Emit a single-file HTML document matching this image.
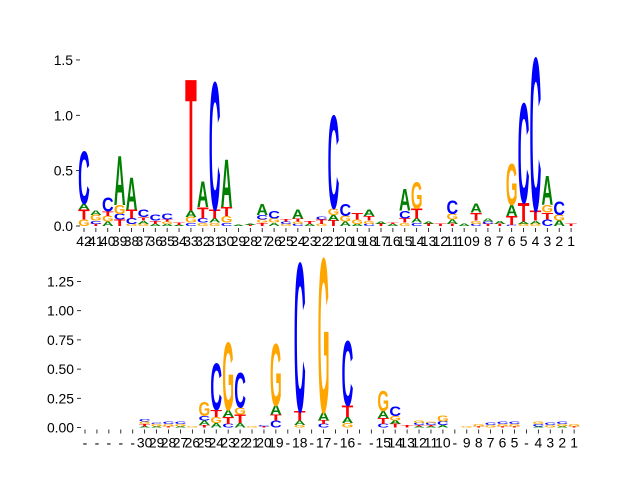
<!DOCTYPE html>
<html><head><meta charset="utf-8">
<style>
html,body{margin:0;padding:0;background:#fff;}
svg{display:block;font-family:"Liberation Sans",sans-serif;}
</style></head>
<body>
<svg id="chart" width="640" height="480" viewBox="0 0 640 480" xmlns="http://www.w3.org/2000/svg">
<g id="top"></g>
<g id="bot"></g>
</svg>
<script>
// Top panel data: stacks bottom->top as [letter, height]
const topLabels = ["42","41","40","39","38","37","36","35","34","33","32","31","30","29","28","27","26","25","24","23","22","21","20","19","18","17","16","15","14","13","12","11","10","9","8","7","6","5","4","3","2","1"];
const topStacks = [
 [["G",.06],["T",.09],["A",.05],["C",.47]],
 [["T",.02],["C",.03],["G",.05],["A",.04]],
 [["A",.04],["G",.05],["T",.04],["C",.13]],
 [["T",.06],["C",.05],["G",.08],["A",.44]],
 [["G",.02],["C",.05],["T",.08],["A",.29]],
 [["G",.02],["A",.03],["T",.03],["C",.07]],
 [["A",.02],["T",.03],["C",.05]],
 [["A",.02],["G",.02],["T",.02],["C",.05]],
 [["A",.01],["T",.02]],
 [["C",.03],["G",.05],["A",.06],["T",1.19]],
 [["G",.03],["C",.04],["T",.1],["A",.23]],
 [["G",.03],["A",.04],["T",.08],["C",1.15]],
 [["C",.03],["G",.06],["T",.08],["A",.43]],
 [["A",.01]],
 [["T",.01],["A",.01]],
 [["T",.03],["G",.03],["C",.04],["A",.1]],
 [["A",.03],["G",.04],["C",.07]],
 [["G",.02],["C",.02],["T",.02]],
 [["C",.02],["G",.02],["T",.03],["A",.08]],
 [["A",.02],["T",.03]],
 [["G",.02],["T",.04],["C",.03]],
 [["T",.05],["A",.05],["G",.06],["C",.84]],
 [["A",.04],["G",.05],["C",.11]],
 [["A",.02],["G",.04],["T",.06]],
 [["C",.02],["G",.03],["T",.04],["A",.06]],
 [["T",.02],["A",.02]],
 [["A",.02],["T",.01]],
 [["G",.03],["T",.04],["C",.07],["A",.2]],
 [["C",.03],["A",.04],["T",.09],["G",.24]],
 [["T",.02],["A",.02]],
 [["T",.02]],
 [["T",.02],["A",.04],["G",.05],["C",.12]],
 [["A",.02]],
 [["C",.02],["G",.03],["T",.07],["A",.08]],
 [["T",.02],["C",.02],["A",.03]],
 [["T",.02],["A",.03]],
 [["C",.01],["T",.08],["A",.1],["G",.37]],
 [["G",.02],["A",.02],["T",.17],["C",.9]],
 [["G",.02],["A",.03],["T",.09],["C",1.38]],
 [["C",.06],["T",.06],["G",.07],["A",.26]],
 [["A",.05],["G",.05],["C",.12]],
 [["T",.02]]
];
const topYTicks = [0,0.5,1.0,1.5];
const topYLabels = ["0.0","0.5","1.0","1.5"];

const botLabels = ["-","-","-","-","-","30","29","28","27","26","25","24","23","22","21","20","19","-","18","-","17","-","16","-","-","15","14","13","12","11","10","-","9","8","7","6","5","-","4","3","2","1"];
const botStacks = [
 [],[],[],[],[],
 [["A",.01],["T",.02],["G",.02],["C",.02]],
 [["A",.01],["G",.02],["C",.01]],
 [["T",.01],["G",.02],["C",.02]],
 [["A",.01],["G",.02],["C",.02]],
 [["G",.01]],
 [["T",.02],["A",.04],["C",.04],["G",.12]],
 [["A",.04],["G",.05],["T",.06],["C",.4]],
 [["C",.03],["T",.06],["A",.06],["G",.58]],
 [["A",.04],["T",.07],["G",.06],["C",.3]],
 [["G",.01]],
 [["T",.01],["C",.01]],
 [["C",.06],["T",.05],["A",.08],["G",.53]],
 [],
 [["G",.02],["A",.04],["T",.08],["C",1.27]],
 [],
 [["C",.03],["T",.03],["A",.07],["G",1.32]],
 [],
 [["G",.04],["A",.05],["T",.1],["C",.55]],
 [],[],
 [["C",.03],["T",.05],["A",.06],["G",.17]],
 [["T",.03],["A",.03],["G",.04],["C",.08]],
 [["T",.02]],
 [["A",.01],["T",.01],["C",.02],["G",.02]],
 [["A",.01],["T",.01],["C",.02],["G",.01]],
 [["A",.02],["C",.03],["G",.05]],
 [],
 [["G",.01]],
 [["T",.01],["G",.02]],
 [["G",.02],["C",.02]],
 [["T",.01],["G",.02],["C",.02]],
 [["T",.01],["G",.02],["C",.02]],
 [],
 [["A",.01],["C",.02],["G",.02]],
 [["G",.02],["C",.02]],
 [["A",.01],["G",.02],["C",.02]],
 [["T",.01],["G",.02]]
];
const botYTicks = [0,0.25,0.5,0.75,1.0,1.25];
const botYLabels = ["0.00","0.25","0.50","0.75","1.00","1.25"];

const COLORS = {A:"#008000",C:"#0000ff",G:"#ffa500",T:"#ff0000"};
const NS = "http://www.w3.org/2000/svg";

function drawPanel(g, stacks, labels, yTicks, yLabels, cfg){
  const xs = i => cfg.x0 + i*cfg.step;
  const ys = v => cfg.base - v*cfg.pxPerUnit;
  yTicks.forEach((t,k)=>{
    const ln = document.createElementNS(NS,"line");
    
    
    ln.setAttribute("x1",cfg.yAxisX-4); ln.setAttribute("x2",cfg.yAxisX);
    ln.setAttribute("y1",ys(t)); ln.setAttribute("y2",ys(t));
    ln.setAttribute("stroke","#000"); ln.setAttribute("stroke-width","0.8");
    g.appendChild(ln);
    const tx = document.createElementNS(NS,"text");
    
    
    tx.setAttribute("x",cfg.yAxisX-7); tx.setAttribute("y",ys(t)+5);
    tx.setAttribute("text-anchor","end"); tx.setAttribute("font-size","13.9");
    tx.textContent = yLabels[k];
    g.appendChild(tx);
  });
  labels.forEach((lab,i)=>{
    const ln = document.createElementNS(NS,"line");
    
    
    ln.setAttribute("x1",xs(i)); ln.setAttribute("x2",xs(i));
    ln.setAttribute("y1",cfg.base+2); ln.setAttribute("y2",cfg.base+6);
    ln.setAttribute("stroke","#000"); ln.setAttribute("stroke-width","0.8");
    g.appendChild(ln);
    const tx = document.createElementNS(NS,"text");
    
    
    tx.setAttribute("x",xs(i)); tx.setAttribute("y",cfg.base+20);
    tx.setAttribute("text-anchor","middle"); tx.setAttribute("font-size","13.9");
    tx.textContent = lab;
    g.appendChild(tx);
  });
  const w = cfg.step*0.98;
  stacks.forEach((stack,i)=>{
    let cum = 0;
    stack.forEach(([L,h])=>{
      const yb = ys(cum), hp = h*cfg.pxPerUnit;
      cum += h;
      if(hp<0.3) return;
      const t = document.createElementNS(NS,"text");
      
      
      t.setAttribute("x","0"); t.setAttribute("y","0");
      t.setAttribute("font-size","100"); t.setAttribute("font-weight","bold");
      t.setAttribute("textLength","100"); t.setAttribute("lengthAdjust","spacingAndGlyphs");
      t.setAttribute("fill",COLORS[L]);
      t.setAttribute("transform",`translate(${xs(i)-w/2},${yb}) scale(${w/100},${hp/69.5})`);
      t.textContent = L;
      g.appendChild(t);
    });
  });
}
drawPanel(document.getElementById("top"), topStacks, topLabels, topYTicks, topYLabels,
  {x0:84, step:11.88, base:226, pxPerUnit:110.7, yAxisX:80});
drawPanel(document.getElementById("bot"), botStacks, botLabels, botYTicks, botYLabels,
  {x0:85, step:11.93, base:427.5, pxPerUnit:116.8, yAxisX:81});
</script>
</body></html>
